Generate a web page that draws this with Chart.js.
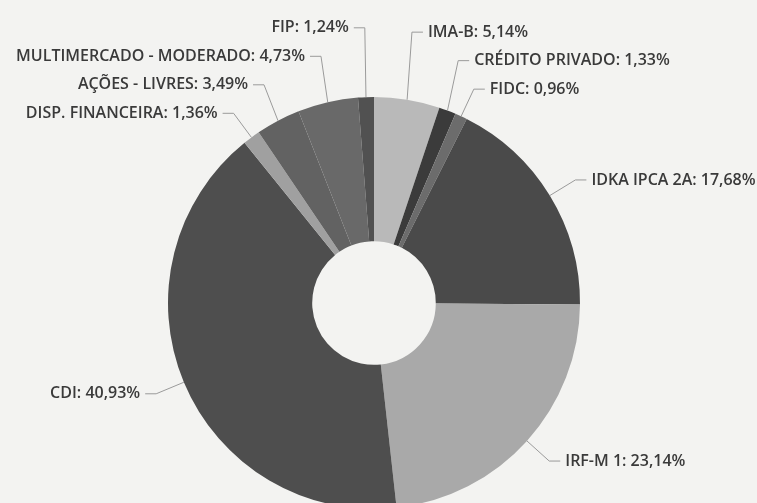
<!DOCTYPE html>
<html>
<head>
<meta charset="utf-8">
<script src="https://cdn.jsdelivr.net/npm/chart.js@4"></script>
<style>
  html, body { margin: 0; padding: 0; background: #f3f3f1; overflow: hidden; }
  #wrap { position: relative; width: 757px; height: 512px; }
</style>
</head>
<body>
<div id="wrap"><canvas id="chart"></canvas></div>
<script>
// Data
const labels = ['IMA-B', 'CRÉDITO PRIVADO', 'FIDC', 'IDKA IPCA 2A', 'IRF-M 1', 'CDI',
    'DISP. FINANCEIRA', 'AÇÕES - LIVRES', 'MULTIMERCADO - MODERADO', 'FIP'];
const values = [5.14, 1.33, 0.96, 17.68, 23.14, 40.93, 1.36, 3.49, 4.73, 1.24];
const colors = ['#b9b9b9', '#3b3b3b', '#6c6c6c', '#4a4a4a', '#a9a9a9', '#4e4e4e',
    '#a0a0a0', '#626262', '#696969', '#515151'];

// Outside labels with connectors (pie-chart style)
const outsideLabels = {
    id: 'outsideLabels',
    afterDatasetsDraw(chart) {
        const ctx = chart.ctx;
        const arcs = chart.getDatasetMeta(0).data;
        const distance = 30;
        const gap = 28.5;

        const items = arcs.map((arc, i) => {
            const mid = (arc.startAngle + arc.endAngle) / 2;
            const R = arc.outerRadius + distance;
            return {
                i,
                mid,
                cx: arc.x,
                cy: arc.y,
                ex: arc.x + arc.outerRadius * Math.cos(mid),
                ey: arc.y + arc.outerRadius * Math.sin(mid),
                xNat: arc.x + R * Math.cos(mid),
                yNat: arc.y + R * Math.sin(mid),
                right: Math.cos(mid) >= 0
            };
        });

        // push crowded labels away from the equator
        [true, false].forEach(side => {
            const group = items.filter(d => d.right === side);
            const upper = group.filter(d => d.yNat < d.cy).sort((a, b) => b.yNat - a.yNat);
            let prev = null;
            upper.forEach(d => {
                d.y = prev === null ? d.yNat : Math.min(d.yNat, prev - gap);
                prev = d.y;
            });
            const lower = group.filter(d => d.yNat >= d.cy).sort((a, b) => a.yNat - b.yNat);
            prev = null;
            lower.forEach(d => {
                d.y = prev === null ? d.yNat : Math.max(d.yNat, prev + gap);
                prev = d.y;
            });
        });

        ctx.save();
        ctx.font = '600 16px "Open Sans"';
        ctx.textBaseline = 'middle';
        items.forEach(d => {
            const dir = d.right ? 1 : -1;
            // connector
            ctx.strokeStyle = '#9a9a9a';
            ctx.lineWidth = 1;
            ctx.beginPath();
            ctx.moveTo(d.ex, d.ey);
            ctx.lineTo(d.xNat, d.y);
            ctx.lineTo(d.xNat + dir * 11, d.y);
            ctx.stroke();
            // text
            const txt = labels[d.i] + ': ' + values[d.i].toFixed(2).replace('.', ',') + '%';
            ctx.fillStyle = '#3a3a3a';
            ctx.textAlign = d.right ? 'left' : 'right';
            ctx.fillText(txt, d.xNat + dir * 16, d.y);
        });
        ctx.restore();
    }
};

const ctx = document.getElementById('chart').getContext('2d');
new Chart(ctx, {
    type: 'doughnut',
    data: {
        labels: labels,
        datasets: [{
            data: values,
            backgroundColor: colors,
            borderWidth: 0,
            hoverOffset: 0,
            offset: 0
        }]
    },
    options: {
        responsive: true,
        maintainAspectRatio: false,
        animation: false,
        events: [],
        cutout: '30%',
        layout: { padding: { top: 97, bottom: 3, left: 0, right: 9 } },
        plugins: {
            legend: { display: false },
            tooltip: { enabled: false }
        }
    },
    plugins: [outsideLabels]
});
</script>
</body>
</html>
